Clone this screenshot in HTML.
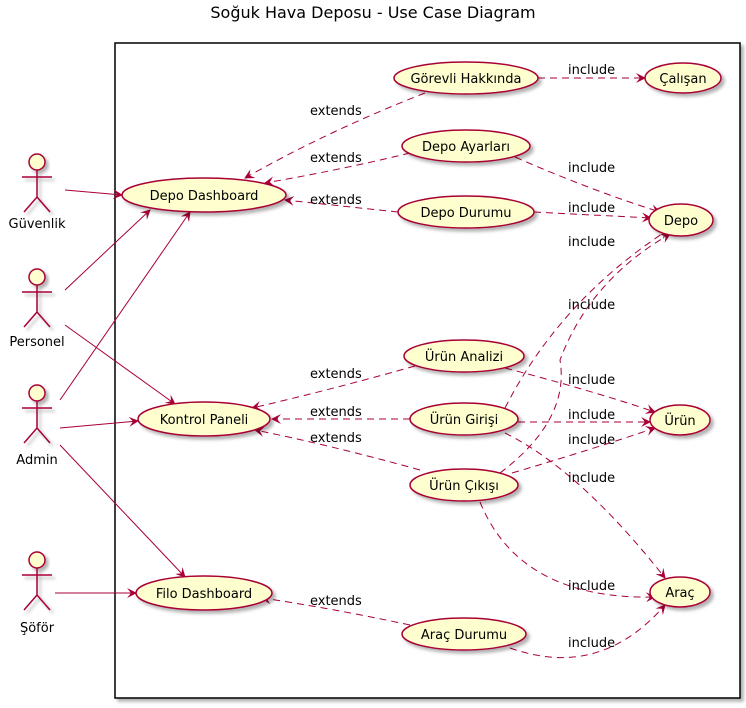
<!DOCTYPE html>
<html><head><meta charset="utf-8"><style>
body{margin:0;background:#fff}
svg{display:block;font-family:"DejaVu Sans","Liberation Sans",sans-serif}
</style></head><body>
<svg width="746" height="708" viewBox="0 0 746 708" xmlns="http://www.w3.org/2000/svg">
<defs>
<marker id="a" viewBox="0 0 10 10" refX="9" refY="5" markerWidth="10" markerHeight="10" orient="auto" markerUnits="userSpaceOnUse"><path d="M0,0 L10,5 L0,10 L4,5 Z" fill="#A80036"/></marker>
<filter id="s" x="-20%" y="-20%" width="150%" height="160%"><feDropShadow dx="3" dy="3" stdDeviation="1.5" flood-color="#000" flood-opacity="0.3"/></filter>
</defs>
<text x="373" y="18" font-size="16" text-anchor="middle">Soğuk Hava Deposu - Use Case Diagram</text>
<rect x="115" y="43" width="625" height="655" fill="#fff" stroke="#000" stroke-width="1.5" filter="url(#s)"/>

<g fill="none" stroke="#A80036" stroke-width="1">
<line x1="65" y1="190" x2="122" y2="195" marker-end="url(#a)"/>
<line x1="65" y1="290" x2="150" y2="210" marker-end="url(#a)"/>
<line x1="60" y1="400" x2="190" y2="212" marker-end="url(#a)"/>
<line x1="65" y1="325" x2="175" y2="404" marker-end="url(#a)"/>
<line x1="60" y1="428" x2="138" y2="421" marker-end="url(#a)"/>
<line x1="60" y1="445" x2="185" y2="577" marker-end="url(#a)"/>
<line x1="55" y1="593" x2="136" y2="593" marker-end="url(#a)"/>
</g>
<g fill="none" stroke="#A80036" stroke-width="1" stroke-dasharray="7,5">
<path d="M425,93 Q330,130 245,178" marker-end="url(#a)"/>
<path d="M410,153 Q340,170 265,183" marker-end="url(#a)"/>
<path d="M398,212 L285,200" marker-end="url(#a)"/>
<path d="M538,78 L645,78" marker-end="url(#a)"/>
<path d="M515,157 Q590,190 660,212" marker-end="url(#a)"/>
<path d="M534,212 L651,218" marker-end="url(#a)"/>
<path d="M505,408 Q560,300 668,230" marker-end="url(#a)"/>
<path d="M500,473 Q570,420 560,360 Q590,280 670,234" marker-end="url(#a)"/>
<path d="M415,366 Q330,390 252,408" marker-end="url(#a)"/>
<path d="M410,419 L272,419" marker-end="url(#a)"/>
<path d="M420,470 Q330,445 255,430" marker-end="url(#a)"/>
<path d="M505,368 Q590,390 655,412" marker-end="url(#a)"/>
<path d="M518,422 L650,422" marker-end="url(#a)"/>
<path d="M512,473 Q590,450 655,428" marker-end="url(#a)"/>
<path d="M505,433 Q580,470 665,578" marker-end="url(#a)"/>
<path d="M480,502 Q520,600 655,597" marker-end="url(#a)"/>
<path d="M510,648 Q600,680 665,605" marker-end="url(#a)"/>
<path d="M410,625 Q330,608 262,598" marker-end="url(#a)"/>
</g>

<g fill="#FEFECE" stroke="#A80036" stroke-width="1.5" filter="url(#s)">
<ellipse cx="466" cy="78" rx="72" ry="16"/>
<ellipse cx="683" cy="78" rx="38" ry="15"/>
<ellipse cx="466" cy="146" rx="64" ry="16"/>
<ellipse cx="204" cy="195" rx="82" ry="17"/>
<ellipse cx="466" cy="212" rx="68" ry="16"/>
<ellipse cx="681" cy="220" rx="32" ry="16"/>
<ellipse cx="464" cy="356" rx="60" ry="16"/>
<ellipse cx="204" cy="419" rx="66" ry="17"/>
<ellipse cx="464" cy="419" rx="54" ry="16"/>
<ellipse cx="680" cy="420" rx="30" ry="15"/>
<ellipse cx="464" cy="485" rx="54" ry="16"/>
<ellipse cx="204" cy="593" rx="68" ry="17"/>
<ellipse cx="464" cy="634" rx="62" ry="16"/>
<ellipse cx="680" cy="592" rx="30" ry="15"/>
</g>
<g font-size="13" text-anchor="middle" fill="#000">
<text x="466" y="83">Görevli Hakkında</text>
<text x="683" y="83">Çalışan</text>
<text x="466" y="151">Depo Ayarları</text>
<text x="204" y="200">Depo Dashboard</text>
<text x="466" y="217">Depo Durumu</text>
<text x="681" y="225">Depo</text>
<text x="464" y="361">Ürün Analizi</text>
<text x="204" y="424">Kontrol Paneli</text>
<text x="464" y="424">Ürün Girişi</text>
<text x="680" y="425">Ürün</text>
<text x="464" y="490">Ürün Çıkışı</text>
<text x="204" y="598">Filo Dashboard</text>
<text x="464" y="639">Araç Durumu</text>
<text x="680" y="597">Araç</text>
</g>
<g font-size="13" fill="#000">
<text x="310" y="115">extends</text>
<text x="310" y="162">extends</text>
<text x="310" y="204">extends</text>
<text x="310" y="378">extends</text>
<text x="310" y="416">extends</text>
<text x="310" y="442">extends</text>
<text x="310" y="605">extends</text>
<text x="568" y="74">include</text>
<text x="568" y="172">include</text>
<text x="568" y="212">include</text>
<text x="568" y="246">include</text>
<text x="568" y="309">include</text>
<text x="568" y="384">include</text>
<text x="568" y="419">include</text>
<text x="568" y="444">include</text>
<text x="568" y="482">include</text>
<text x="568" y="590">include</text>
<text x="568" y="647">include</text>
</g>

<g fill="#FEFECE" stroke="#A80036" stroke-width="1.5">
<g transform="translate(37,162)"><circle r="8" filter="url(#s)"/><path d="M0,8 V35 M-15,15 H15 M-13,50 L0,35 L13,50" fill="none" filter="url(#s)"/></g>
<g transform="translate(37,277)"><circle r="8" filter="url(#s)"/><path d="M0,8 V35 M-15,15 H15 M-13,50 L0,35 L13,50" fill="none" filter="url(#s)"/></g>
<g transform="translate(37,393)"><circle r="8" filter="url(#s)"/><path d="M0,8 V35 M-15,15 H15 M-13,50 L0,35 L13,50" fill="none" filter="url(#s)"/></g>
<g transform="translate(37,560)"><circle r="8" filter="url(#s)"/><path d="M0,8 V35 M-15,15 H15 M-13,50 L0,35 L13,50" fill="none" filter="url(#s)"/></g>
</g>
<g font-size="13" text-anchor="middle" fill="#000">
<text x="37" y="228">Güvenlik</text>
<text x="37" y="346">Personel</text>
<text x="37" y="464">Admin</text>
<text x="37" y="632">Şöför</text>
</g>
</svg>
</body></html>
